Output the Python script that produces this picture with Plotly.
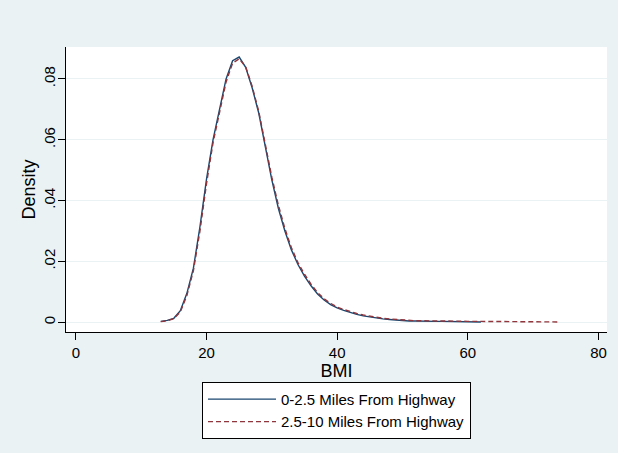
import plotly.graph_objects as go

bmi_near = list(range(13, 63))
dens_near = [0.0003, 0.0006, 0.0013, 0.0038, 0.0095, 0.0178, 0.0314, 0.0470, 0.0600, 0.0705,
             0.0800, 0.0860, 0.0872, 0.0838, 0.0770, 0.0688, 0.0578, 0.0468, 0.0375, 0.0300,
             0.0238, 0.0190, 0.0152, 0.0120, 0.0093, 0.0073, 0.0058, 0.0047, 0.0039, 0.0032,
             0.0026, 0.0021, 0.0017, 0.0014, 0.0011, 0.0009, 0.0007, 0.0005, 0.0004, 0.0004,
             0.0003, 0.0003, 0.0003, 0.0003, 0.0003, 0.0003, 0.0003, 0.0002, 0.0002, 0.0001]

bmi_far = list(range(13, 75))
dens_far = [0.0002, 0.0005, 0.0012, 0.0034, 0.0088, 0.0170, 0.0300, 0.0455, 0.0590, 0.0695,
            0.0790, 0.0852, 0.0866, 0.0840, 0.0775, 0.0693, 0.0585, 0.0477, 0.0385, 0.0308,
            0.0245, 0.0196, 0.0158, 0.0125, 0.0098, 0.0077, 0.0062, 0.0050, 0.0042, 0.0035,
            0.0029, 0.0024, 0.0020, 0.0016, 0.0013, 0.0011, 0.0009, 0.0007, 0.0006, 0.0005,
            0.0005, 0.0004, 0.0004, 0.0004, 0.0004, 0.0003, 0.0003, 0.0003, 0.0003, 0.0003,
            0.0003, 0.0003, 0.0003, 0.0003, 0.0002, 0.0002, 0.0002, 0.0002, 0.0002, 0.0001,
            0.0001, 0.0001]

x_ticks = [0, 20, 40, 60, 80]
y_ticks = [0, 0.02, 0.04, 0.06, 0.08]
y_tick_labels = ["0", ".02", ".04", ".06", ".08"]

font = "Liberation Sans, Arial, sans-serif"
bg = "#EAF2F3"

fig = go.Figure()
fig.add_trace(go.Scatter(x=bmi_near, y=dens_near, mode="lines",
                         name="0-2.5 Miles From Highway",
                         line=dict(color="#1a476f", width=1.4)))
fig.add_trace(go.Scatter(x=bmi_far, y=dens_far, mode="lines",
                         name="2.5-10 Miles From Highway",
                         line=dict(color="#90353b", width=1.4, dash="5px,3px")))

fig.update_layout(
    width=618, height=453,
    margin=dict(l=66, r=11, t=47, b=121, autoexpand=False),
    paper_bgcolor=bg, plot_bgcolor="white",
    font=dict(family=font, size=15, color="black"),
    showlegend=True,
    legend=dict(x=0.5, xanchor="center", y=-0.175, yanchor="top",
                bgcolor="white", bordercolor="black", borderwidth=1,
                font=dict(size=15), tracegroupgap=0, itemwidth=68),
    xaxis=dict(range=[-1.5, 81.3], tickvals=x_ticks, ticks="outside", ticklen=7,
               tickcolor="black", showline=True, linecolor="black", linewidth=1,
               showgrid=False, zeroline=False, mirror=False, automargin=False,
               title=dict(text="BMI", standoff=0)),
    yaxis=dict(range=[-0.0032, 0.0905], tickvals=y_ticks, ticktext=y_tick_labels,
               tickangle=-90, ticks="outside", ticklen=7, tickcolor="black",
               ticklabelstandoff=-3,
               showline=True, linecolor="black", linewidth=1, automargin=False,
               showgrid=True, gridcolor=bg, gridwidth=1, zeroline=False,
               title=dict(text="Density", standoff=0)),
)

fig.write_html("out.html", config={"displayModeBar": False},
               post_script="document.body.style.margin='0px';document.body.style.background='%s';" % bg)
